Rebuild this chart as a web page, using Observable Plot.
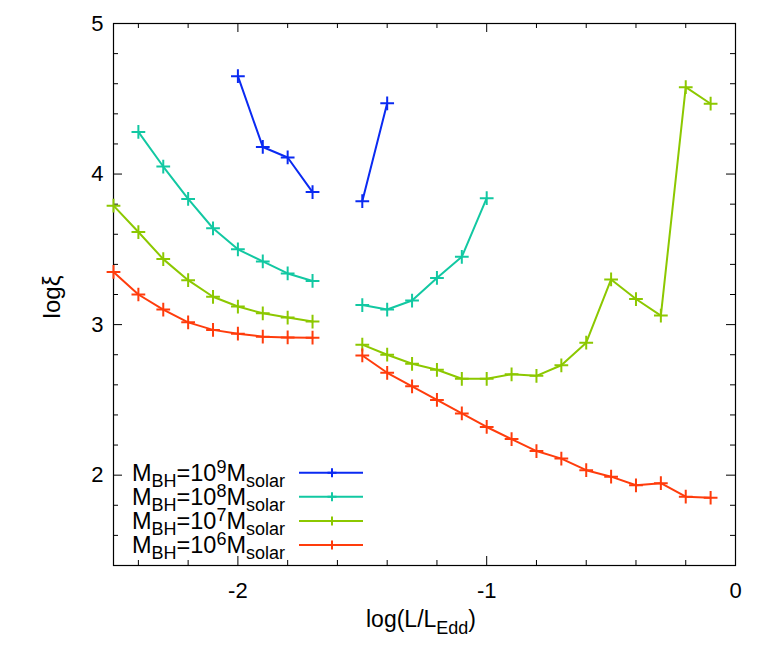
<!DOCTYPE html>
<html><head><meta charset="utf-8">
<script src="https://cdn.jsdelivr.net/npm/d3@7"></script>
<script src="https://cdn.jsdelivr.net/npm/@observablehq/plot@0.6"></script>
<style>body{margin:0;background:#fff}</style>
</head><body><div id="chart"></div>
<script>
// Series (black-hole masses) and their colours
const seriesNames = ["1e9", "1e8", "1e7", "1e6"];
const seriesExp = ["9", "8", "7", "6"];
const seriesColors = ["#0a2af2", "#12c8a2", "#8cc800", "#ff3c0c"];

// M_BH = 1e9
const x_1e9_left = [-2.0, -1.9, -1.8, -1.7];
const y_1e9_left = [4.65, 4.18, 4.11, 3.88];
const x_1e9_right = [-1.5, -1.4];
const y_1e9_right = [3.82, 4.47];

// M_BH = 1e8
const x_1e8_left = [-2.4, -2.3, -2.2, -2.1, -2.0, -1.9, -1.8, -1.7];
const y_1e8_left = [4.28, 4.05, 3.835, 3.64, 3.50, 3.42, 3.34, 3.29];
const x_1e8_right = [-1.5, -1.4, -1.3, -1.2, -1.1, -1.0];
const y_1e8_right = [3.13, 3.10, 3.16, 3.31, 3.45, 3.84];

// M_BH = 1e7
const x_1e7_left = [-2.5, -2.4, -2.3, -2.2, -2.1, -2.0, -1.9, -1.8, -1.7];
const y_1e7_left = [3.79, 3.615, 3.435, 3.295, 3.185, 3.12, 3.075, 3.047, 3.02];
const x_1e7_right = [-1.5, -1.4, -1.3, -1.2, -1.1, -1.0, -0.9, -0.8, -0.7, -0.6, -0.5, -0.4, -0.3, -0.2, -0.1];
const y_1e7_right = [2.867, 2.80, 2.74, 2.70, 2.64, 2.64, 2.67, 2.66, 2.73, 2.88, 3.30, 3.17, 3.06, 4.577, 4.467];

// M_BH = 1e6
const x_1e6_left = [-2.5, -2.4, -2.3, -2.2, -2.1, -2.0, -1.9, -1.8, -1.7];
const y_1e6_left = [3.35, 3.20, 3.10, 3.015, 2.965, 2.94, 2.92, 2.915, 2.913];
const x_1e6_right = [-1.5, -1.4, -1.3, -1.2, -1.1, -1.0, -0.9, -0.8, -0.7, -0.6, -0.5, -0.4, -0.3, -0.2, -0.1];
const y_1e6_right = [2.795, 2.68, 2.59, 2.50, 2.41, 2.32, 2.24, 2.16, 2.11, 2.033, 1.99, 1.933, 1.947, 1.857, 1.85];

// Ticks
const xMajor = [-2, -1, 0];
const xMinor = [-2.4, -2.2, -1.8, -1.6, -1.4, -1.2, -0.8, -0.6, -0.4, -0.2];
const yMajor = [2, 3, 4, 5];
const yMinor = [1.6, 1.8, 2.2, 2.4, 2.6, 2.8, 3.2, 3.4, 3.6, 3.8, 4.2, 4.4, 4.6, 4.8];

const segments = [
  ["1e9", "L", x_1e9_left, y_1e9_left], ["1e9", "R", x_1e9_right, y_1e9_right],
  ["1e8", "L", x_1e8_left, y_1e8_left], ["1e8", "R", x_1e8_right, y_1e8_right],
  ["1e7", "L", x_1e7_left, y_1e7_left], ["1e7", "R", x_1e7_right, y_1e7_right],
  ["1e6", "L", x_1e6_left, y_1e6_left], ["1e6", "R", x_1e6_right, y_1e6_right]
];
const rows = [];
for (const [s, seg, xs, ys] of segments) xs.forEach((x, i) => rows.push({x, y: ys[i], series: s, key: s + seg}));

const W = 759, H = 664, mL = 113, mR = 24, mT = 23, mB = 99;
const innerW = W - mL - mR, innerH = H - mT - mB;
const FONT = "'Liberation Sans', Arial, Helvetica, sans-serif";

const plot = Plot.plot({
  width: W, height: H,
  marginLeft: mL, marginRight: mR, marginTop: mT, marginBottom: mB,
  style: {fontFamily: FONT, fontSize: "22px", color: "black", background: "white"},
  x: {domain: [-2.5, 0]},
  y: {domain: [1.4, 5]},
  color: {domain: seriesNames, range: seriesColors},
  marks: [
    Plot.axisX({ticks: xMajor, tickSize: 0, tickPadding: 17, tickFormat: d => String(d), label: null}),
    Plot.axisY({ticks: yMajor, tickSize: 0, tickPadding: 10, tickFormat: d => String(d), label: null}),
    Plot.tickX(xMajor, {x: d => d, insetTop: innerH - 9, stroke: "black"}),
    Plot.tickX(xMajor, {x: d => d, insetBottom: innerH - 9, stroke: "black"}),
    Plot.tickX(xMinor, {x: d => d, insetTop: innerH - 5, stroke: "black"}),
    Plot.tickX(xMinor, {x: d => d, insetBottom: innerH - 5, stroke: "black"}),
    Plot.tickY(yMajor, {y: d => d, insetRight: innerW - 9, stroke: "black"}),
    Plot.tickY(yMajor, {y: d => d, insetLeft: innerW - 9, stroke: "black"}),
    Plot.tickY(yMinor, {y: d => d, insetRight: innerW - 5, stroke: "black"}),
    Plot.tickY(yMinor, {y: d => d, insetLeft: innerW - 5, stroke: "black"}),
    Plot.frame({stroke: "black", strokeWidth: 1.2}),
    Plot.line(rows, {x: "x", y: "y", z: "key", stroke: "series", strokeWidth: 2}),
    Plot.dot(rows, {x: "x", y: "y", stroke: "series", symbol: "plus", r: 4.5, strokeWidth: 2})
  ]
});
document.getElementById("chart").appendChild(plot);

const svg = d3.select(plot);
// Axis titles
const xl = svg.append("text").attr("x", 421).attr("y", 627).attr("text-anchor", "middle")
  .attr("font-family", FONT).attr("font-size", 23).attr("fill", "black");
xl.append("tspan").text("log(L/L");
xl.append("tspan").attr("dy", 7).attr("font-size", 18).text("Edd");
xl.append("tspan").attr("dy", -7).text(")");

svg.append("text").attr("transform", "translate(60,297) rotate(-90)").attr("text-anchor", "middle")
  .attr("font-family", FONT).attr("font-size", 24).attr("fill", "black").text("logξ");

// Legend
const leg = svg.append("g");
seriesNames.forEach((s, i) => {
  const cy = 472.7 + 24.1 * i;
  const t = leg.append("text").attr("x", 285).attr("y", cy + 8).attr("text-anchor", "end")
    .attr("font-family", FONT).attr("font-size", 23.5).attr("fill", "black");
  t.append("tspan").text("M");
  t.append("tspan").attr("dy", 6).attr("font-size", 18).text("BH");
  t.append("tspan").attr("dy", -6).text("=10");
  t.append("tspan").attr("dy", -8).attr("font-size", 18).text(seriesExp[i]);
  t.append("tspan").attr("dy", 8).text("M");
  t.append("tspan").attr("dy", 6).attr("font-size", 18).text("solar");
  leg.append("line").attr("x1", 299).attr("x2", 363).attr("y1", cy).attr("y2", cy)
    .attr("stroke", seriesColors[i]).attr("stroke-width", 2);
  leg.append("path").attr("d", `M${332 - 4.5},${cy}H${332 + 4.5}M332,${cy - 4.5}V${cy + 4.5}`)
    .attr("stroke", seriesColors[i]).attr("stroke-width", 2).attr("fill", "none");
});
</script>
</body></html>
